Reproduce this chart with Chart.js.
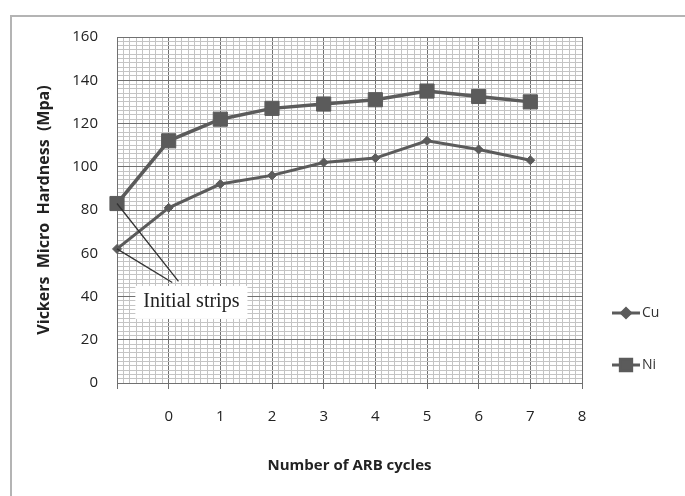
<!DOCTYPE html>
<html>
<head>
<meta charset="utf-8">
<script src="https://cdn.jsdelivr.net/npm/chart.js@4/dist/chart.umd.min.js"></script>
<style>
  body { margin: 0; background: #fff; }
  #wrap { position: relative; width: 685px; height: 496px; }
  #frame { position: absolute; left: 10px; top: 15px; right: 0; bottom: 0; border-left: 2px solid #b4b4b4; border-top: 2px solid #b4b4b4; pointer-events: none; }
</style>
</head>
<body>
<div id="wrap">
  <canvas id="hardnessChart" width="685" height="496"></canvas>
  <div id="frame"></div>
</div>
<script>
// x = -1 is the initial strip, then ARB cycles 0..7
const cycles = [-1, 0, 1, 2, 3, 4, 5, 6, 7];
const cuValues = [62, 81, 92, 96, 102, 104, 112, 108, 103];
const niValues = [83, 112, 122, 127, 129, 131, 135, 132.5, 130];
const xTickLabels = ['', '0', '1', '2', '3', '4', '5', '6', '7', '8'];
const yTickLabels = [0, 20, 40, 60, 80, 100, 120, 140, 160];

const lineColor = '#5b5b5b';
const font = "'Open Sans', 'Liberation Sans', sans-serif";

function points(vals) {
    return cycles.map((c, i) => ({ x: c, y: vals[i] }));
}

// minor grid: 8 per cycle on x, every 2 units on y
function xTicks(scale) {
    let t = [];
    for (let i = -8; i <= 64; i++) t.push({ value: i / 8 });
    scale.ticks = t;
}
function yTicks(scale) {
    let t = [];
    for (let v = 0; v <= 160; v += 2) t.push({ value: v });
    scale.ticks = t;
}
function isMajorX(v) { return Math.abs(v - Math.round(v)) < 1e-6; }
function isMajorY(v) { return v % 20 === 0; }

const annotation = {
    id: 'annotation',
    afterDatasetsDraw(chart) {
        const { ctx, scales: { x, y } } = chart;
        ctx.save();
        // leader lines to "Initial strips"
        ctx.strokeStyle = '#333';
        ctx.lineWidth = 1.3;
        ctx.beginPath();
        ctx.moveTo(x.getPixelForValue(-1), y.getPixelForValue(niValues[0]));
        ctx.lineTo(x.getPixelForValue(0.19), y.getPixelForValue(47));
        ctx.moveTo(x.getPixelForValue(-1), y.getPixelForValue(cuValues[0]));
        ctx.lineTo(x.getPixelForValue(0.07), y.getPixelForValue(46.5));
        ctx.stroke();
        const tx = x.getPixelForValue(0.44), ty = y.getPixelForValue(37.5);
        ctx.font = "20px 'Liberation Serif', 'Times New Roman', serif";
        const w = ctx.measureText('Initial strips').width;
        ctx.fillStyle = '#fff';
        ctx.fillRect(tx - w / 2 - 8, ty - 16, w + 16, 33);
        ctx.fillStyle = '#222';
        ctx.textAlign = 'center';
        ctx.textBaseline = 'middle';
        ctx.fillText('Initial strips', tx, ty);
        ctx.restore();
    },
    afterDraw(chart) {
        // legend on the right
        const { ctx, chartArea } = chart;
        const items = [
            { label: 'Cu', style: 'rectRot', r: 4.5, y: 313 },
            { label: 'Ni', style: 'rect', r: 8, y: 365 }
        ];
        ctx.save();
        items.forEach(it => {
            const x0 = chartArea.right + 30;
            ctx.strokeStyle = lineColor;
            ctx.lineWidth = 3;
            ctx.beginPath();
            ctx.moveTo(x0, it.y);
            ctx.lineTo(x0 + 28, it.y);
            ctx.stroke();
            ctx.fillStyle = lineColor;
            Chart.helpers.drawPoint(ctx, { pointStyle: it.style, radius: it.r, borderWidth: 1 }, x0 + 14, it.y);
            ctx.fillStyle = '#333';
            ctx.font = '14px ' + font;
            ctx.textBaseline = 'middle';
            ctx.fillText(it.label, x0 + 30, it.y);
        });
        ctx.restore();
    }
};

new Chart(document.getElementById('hardnessChart'), {
    type: 'line',
    data: {
        datasets: [{
            label: 'Cu',
            data: points(cuValues),
            borderColor: lineColor,
            backgroundColor: lineColor,
            borderWidth: 3,
            pointStyle: 'rectRot',
            pointRadius: 4.5,
            pointBorderWidth: 1,
            clip: false
        }, {
            label: 'Ni',
            data: points(niValues),
            borderColor: lineColor,
            backgroundColor: lineColor,
            borderWidth: 3.5,
            pointStyle: 'rect',
            pointRadius: 10,
            pointBorderWidth: 1,
            clip: false
        }]
    },
    options: {
        responsive: false,
        animation: false,
        layout: { padding: { left: 30, top: 37, right: 103, bottom: 0 } },
        plugins: {
            legend: { display: false },
            tooltip: { enabled: false }
        },
        scales: {
            x: {
                type: 'linear',
                min: -1,
                max: 8,
                afterBuildTicks: xTicks,
                afterFit: s => { s.height = 113; },
                grid: {
                    color: c => isMajorX(c.tick.value) ? '#707070' : '#c4c4c4',
                    tickColor: c => isMajorX(c.tick.value) ? '#707070' : 'rgba(0,0,0,0)',
                    tickLength: 6,
                    lineWidth: 1
                },
                border: { color: '#707070' },
                ticks: {
                    autoSkip: false,
                    maxRotation: 0,
                    padding: 19,
                    color: '#222',
                    font: { family: font, size: 15 },
                    callback: v => isMajorX(v) ? xTickLabels[Math.round(v) + 1] : ''
                },
                title: {
                    display: true,
                    text: 'Number of ARB cycles',
                    color: '#222',
                    font: { family: font, size: 15, weight: 'bold' },
                    padding: { top: 0, bottom: 21 }
                }
            },
            y: {
                min: 0,
                max: 160,
                afterBuildTicks: yTicks,
                afterFit: s => { s.width = 87; },
                grid: {
                    color: c => isMajorY(c.tick.value) ? '#707070' : '#c4c4c4',
                    drawTicks: false,
                    lineWidth: 1
                },
                border: { color: '#707070' },
                ticks: {
                    autoSkip: false,
                    padding: 19,
                    color: '#222',
                    font: { family: font, size: 15 },
                    callback: v => yTickLabels.includes(v) ? String(v) : ''
                },
                title: {
                    display: true,
                    text: 'Vickers  Micro  Hardness  (Mpa)',
                    color: '#222',
                    font: { family: font, size: 16, weight: 'bold' },
                    padding: { top: 5, bottom: 0 }
                }
            }
        }
    },
    plugins: [annotation]
});
</script>
</body>
</html>
